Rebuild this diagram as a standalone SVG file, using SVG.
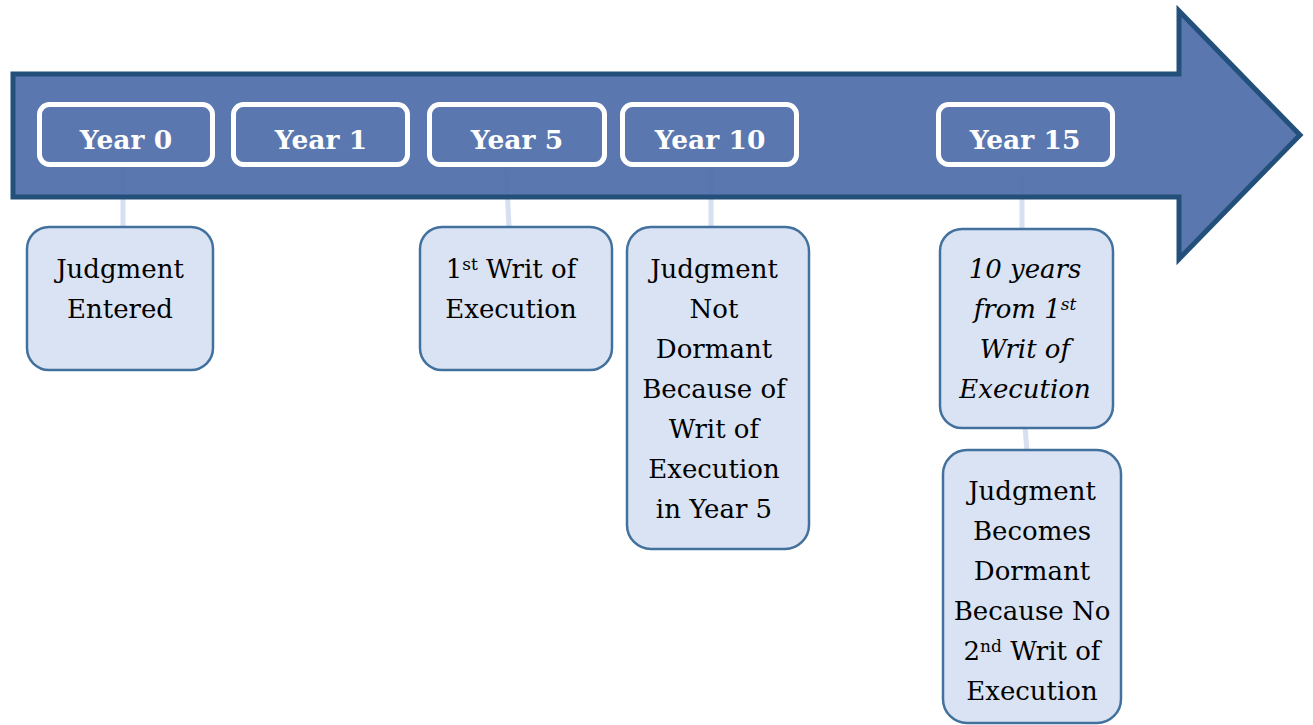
<svg xmlns="http://www.w3.org/2000/svg" width="1313" height="725" viewBox="0 0 1313 725">
<style>
.yr{fill:none;stroke:#FFFFFF;stroke-width:5}
.yt{font-family:"DejaVu Serif","Liberation Serif",serif;font-weight:bold;font-size:26.5px;fill:#FFFFFF;text-anchor:middle}
.nb{fill:#DAE3F3;stroke:#41719C;stroke-width:2.5}
.nt{font-family:"DejaVu Serif","Liberation Serif",serif;font-size:26px;fill:#000000;text-anchor:middle}
.it{font-style:italic}
.sp{font-size:17px}
.cn{stroke:#D6E0F1;stroke-width:5;fill:none}
</style>
<rect width="1313" height="725" fill="#FFFFFF"/>
<g id="connectors">
<line class="cn" x1="123" y1="167" x2="123" y2="228"/>
<line class="cn" x1="506" y1="167" x2="509" y2="227"/>
<line class="cn" x1="711" y1="168" x2="711" y2="227"/>
<line class="cn" x1="1022" y1="176" x2="1022" y2="229"/>
<line class="cn" x1="1025" y1="427" x2="1027" y2="451"/>
</g>
<g id="arrow">
<polygon points="13,74 1179,74 1179,11 1300,135 1179,259 1179,197 13,197" fill="#4D6EA9" fill-opacity="0.93" stroke="#22507A" stroke-width="5" stroke-linejoin="miter"/>
</g>
<g id="year0"><rect class="yr" x="39.5" y="104.5" width="173" height="60" rx="10"/><text class="yt" x="126" y="149">Year 0</text></g>
<g id="year1"><rect class="yr" x="233.5" y="104.5" width="174" height="60" rx="10"/><text class="yt" x="321" y="149">Year 1</text></g>
<g id="year5"><rect class="yr" x="429.5" y="104.5" width="175" height="60" rx="10"/><text class="yt" x="517" y="149">Year 5</text></g>
<g id="year10"><rect class="yr" x="622.5" y="104.5" width="174" height="60" rx="10"/><text class="yt" x="710" y="149">Year 10</text></g>
<g id="year15"><rect class="yr" x="938.5" y="104.5" width="174" height="60" rx="10"/><text class="yt" x="1025" y="149">Year 15</text></g>
<g id="note-entered"><rect class="nb" x="27" y="227" width="186" height="143" rx="22"/>
<text class="nt" x="120" y="278">Judgment</text><text class="nt" x="120" y="318">Entered</text></g>
<g id="note-writ1"><rect class="nb" x="420" y="227" width="192" height="143" rx="22"/>
<text class="nt" x="511" y="278">1<tspan class="sp" dy="-8">st</tspan><tspan dy="8"> Writ of</tspan></text><text class="nt" x="511" y="318">Execution</text></g>
<g id="note-notdormant"><rect class="nb" x="627" y="227" width="182" height="322" rx="24"/>
<text class="nt" x="714" y="278">Judgment</text>
<text class="nt" x="714" y="318">Not</text>
<text class="nt" x="714" y="358">Dormant</text>
<text class="nt" x="714" y="398">Because of</text>
<text class="nt" x="714" y="438">Writ of</text>
<text class="nt" x="714" y="478">Execution</text>
<text class="nt" x="714" y="518">in Year 5</text></g>
<g id="note-10years"><rect class="nb" x="940" y="229" width="173" height="199" rx="22"/>
<text class="nt it" x="1025" y="278">10 years</text>
<text class="nt it" x="1025" y="318">from 1<tspan class="sp" dy="-8">st</tspan></text>
<text class="nt it" x="1025" y="358">Writ of</text>
<text class="nt it" x="1025" y="398">Execution</text></g>
<g id="note-dormant"><rect class="nb" x="943" y="450" width="178" height="273" rx="24"/>
<text class="nt" x="1032" y="500">Judgment</text>
<text class="nt" x="1032" y="540">Becomes</text>
<text class="nt" x="1032" y="580">Dormant</text>
<text class="nt" x="1032" y="620">Because No</text>
<text class="nt" x="1032" y="660">2<tspan class="sp" dy="-8">nd</tspan><tspan dy="8"> Writ of</tspan></text>
<text class="nt" x="1032" y="700">Execution</text></g>
</svg>
